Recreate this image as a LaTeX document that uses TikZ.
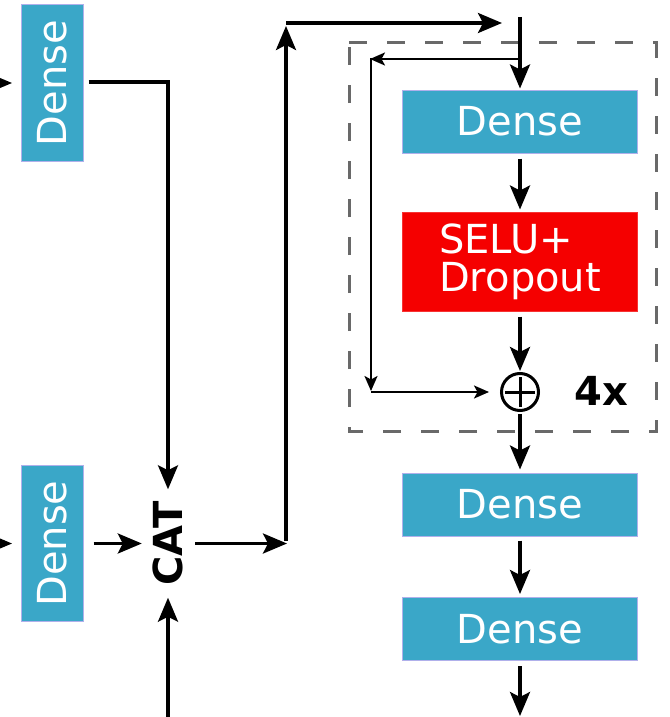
\documentclass[tikz,border=0pt]{standalone}
\usepackage{fontspec}
\setmainfont{DejaVu Sans}
\usetikzlibrary{arrows.meta}
\definecolor{denseblue}{RGB}{58,167,200}
\definecolor{denseedge}{RGB}{176,176,235}
\definecolor{seluRed}{RGB}{245,0,0}
\definecolor{dashgray}{RGB}{105,105,105}
\tikzset{
  dense/.style={fill=denseblue, draw=denseedge, line width=1pt, text=white,
    font=\fontsize{40}{48}\selectfont, inner sep=0pt},
  vdense/.style={dense, rotate=90, minimum width=156pt, minimum height=62pt},
  hdense/.style={dense, minimum width=235pt, minimum height=63pt},
  main/.style={line width=3.3pt, -{Stealth[length=24pt,width=20pt,inset=5pt]}},
  thinarrow/.style={line width=2.2pt, -{Stealth[length=15pt,width=13pt,inset=3.5pt]}},
}
\begin{document}
\begin{tikzpicture}[x=1pt,y=-1pt]
\useasboundingbox (0,0) rectangle (669,717);
\clip (0,0) rectangle (669,717);

% dashed repeat box
\draw[dashgray, line width=3pt, dash pattern=on 18pt off 20pt]
  (349,43) -- (656,43) -- (656,431) -- (349,431) -- cycle;

% left column
\node[vdense] (dl1) at (52,83) {Dense};
\node[vdense] (dl2) at (52,543.5) {Dense};
\node[rotate=90, minimum width=108pt, minimum height=52pt, inner sep=0pt,
  font=\fontsize{40}{48}\selectfont\bfseries] (cat) at (168,543.5) {CAT};

% right column
\node[hdense] (d1) at (520,121.5) {Dense};
\node[fill=seluRed, draw=seluRed!80!white, line width=1pt, text=white,
  minimum width=235pt, minimum height=99pt, inner sep=0pt, align=left,
  font=\fontsize{40}{38}\selectfont] (selu) at (520,261.5) {SELU+\\Dropout};
\node[circle, draw, line width=3pt, minimum size=37pt, inner sep=0pt,
  path picture={\draw[line width=3pt]
    ([yshift=-15pt]path picture bounding box.center) -- ([yshift=15pt]path picture bounding box.center)
    ([xshift=-15pt]path picture bounding box.center) -- ([xshift=15pt]path picture bounding box.center);}]
  (plus) at (520,392) {};
\node[font=\fontsize{40}{46}\selectfont\bfseries] (rep) at (601,391) {4x};
\node[hdense] (d2) at (520,504.5) {Dense};
\node[hdense] (d3) at (520,629) {Dense};

% free ends
\coordinate (in1) at (-40,83);
\coordinate (in1t) at (12,83);
\coordinate (in2) at (-40,543.5);
\coordinate (in2t) at (12,543.5);
\coordinate (catin) at (168,760);
\coordinate (j1) at (287,543.5);
\coordinate (j1b) at (286,541);
\coordinate (j2) at (286,26);
\coordinate (j3) at (286,23);
\coordinate (j4) at (502,23);
\coordinate (j5) at (520,17);
\coordinate (fb1) at (520,59);
\coordinate (fb2) at (370,59);
\coordinate (fb3) at (371,58);
\coordinate (fb4) at (371,391);
\coordinate (fb5) at (371,392);
\coordinate (outend) at (520,716);

% left connectors
\draw[main] (in1) -- (in1t);
\draw[main] (in2) -- (in2t);
\draw[main, shorten <=5pt] (dl1.south |- 0,82) -| (cat.east);
\draw[main, shorten <=10pt] (dl2.south) -- (cat.north);
\draw[main] (catin) -- (cat.west);
\draw[main, shorten <=1pt] (cat.south) -- (j1);
\draw[main] (j1b) -- (j2);
\draw[main] (j3) -- (j4);
\draw[main, shorten >=1pt] (j5) -- (d1.north);

% right column connectors
\draw[main, shorten <=5pt, shorten >=2pt] (d1.south) -- (selu.north);
\draw[main, shorten <=5pt, shorten >=1pt] (selu.south) -- (plus.north);
\draw[main, shorten <=2pt, shorten >=3pt] (plus.south) -- (d2.north);
\draw[main, shorten <=4pt, shorten >=3pt] (d2.south) -- (d3.north);
\draw[main, shorten <=5pt] (d3.south) -- (outend);

% residual skip
\draw[thinarrow] (fb1) -- (fb2);
\draw[thinarrow] (fb3) -- (fb4);
\draw[thinarrow, shorten >=11pt] (fb5) -- (plus.west);
\end{tikzpicture}
\end{document}
